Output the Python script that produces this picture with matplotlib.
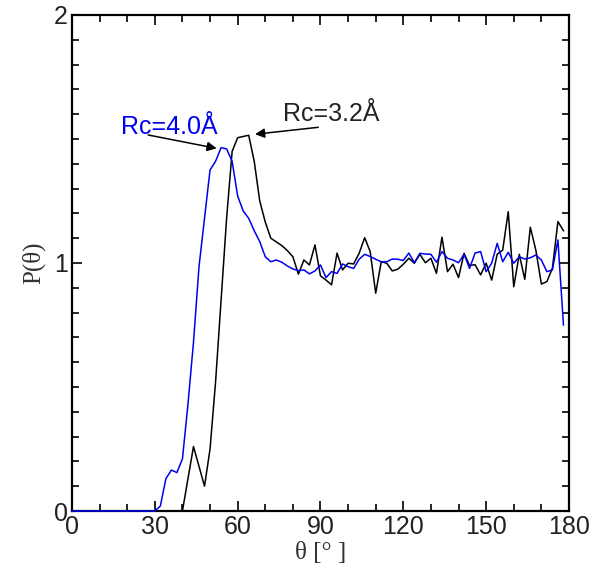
import numpy as np
import matplotlib
matplotlib.use('Agg')
import matplotlib.pyplot as plt
from matplotlib.ticker import MultipleLocator

# angle bins (degrees)
theta = list(range(0, 180, 2))

# Rc = 3.2 A (black)
p_32 = [0.0] * 20 + [
    0.0, 0.13, 0.26, 0.18, 0.10, 0.25, 0.52, 0.85, 1.18, 1.45,
    1.505, 1.51, 1.515, 1.41, 1.25, 1.165, 1.10, 1.085, 1.07, 1.05,
    1.025, 0.955, 1.012, 0.992, 1.073, 0.948, 0.931, 0.912, 1.04, 0.972,
    0.999, 0.996, 1.039, 1.102, 1.046, 0.878, 1.005, 0.999, 0.968, 0.975,
    0.995, 1.019, 0.999, 1.035, 1.001, 1.019, 0.958, 1.104, 0.965, 0.995,
    0.941, 1.039, 0.99, 0.993, 0.952, 0.999, 0.931, 1.035, 1.052, 1.207,
    0.904, 1.035, 0.934, 1.144, 1.052, 0.915, 0.925, 0.979, 1.167, 1.130]

# Rc = 4.0 A (blue)
p_40 = [0.0] * 16 + [
    0.02, 0.13, 0.165, 0.155, 0.21, 0.43, 0.68, 0.985, 1.18, 1.375,
    1.41, 1.465, 1.46, 1.41, 1.27, 1.21, 1.18, 1.13, 1.086, 1.025,
    1.005, 1.012, 1.003, 0.988, 0.976, 0.969, 0.972, 0.956, 0.968, 0.992,
    0.941, 0.965, 0.958, 0.996, 0.985, 0.978, 1.015, 1.035, 1.026, 1.015,
    1.005, 1.005, 1.016, 1.015, 1.01, 1.04, 1.001, 1.039, 1.036, 1.035,
    1.003, 1.046, 1.019, 1.012, 1.001, 1.035, 0.978, 1.04, 1.046, 0.965,
    0.999, 1.079, 1.005, 1.043, 0.999, 1.025, 1.016, 1.021, 1.032, 1.012,
    0.965, 0.972, 1.093, 0.75]

sans = ['Liberation Sans', 'DejaVu Sans']
serif = ['Liberation Serif', 'DejaVu Serif']

fig = plt.figure(figsize=(6.04, 5.75), dpi=100)
ax = fig.add_axes([0.1192, 0.1113, 0.8228, 0.8627])

ax.plot(theta, p_32, color='black', lw=1.1, clip_on=False, zorder=3)
ax.plot(theta, p_40, color='#0000ee', lw=1.1, clip_on=False, zorder=3)

ax.set_xlim(0, 180)
ax.set_ylim(0, 2)
ax.xaxis.set_major_locator(MultipleLocator(30))
ax.xaxis.set_minor_locator(MultipleLocator(10))
ax.yaxis.set_major_locator(MultipleLocator(1))
ax.yaxis.set_minor_locator(MultipleLocator(0.1))
ax.tick_params(which='both', direction='in', top=True, right=True,
               width=1.2, colors='black')
ax.tick_params(which='major', length=7, labelsize=18, pad=3,
               labelcolor='#222222')
ax.tick_params(which='minor', length=5)
for lab in ax.get_xticklabels() + ax.get_yticklabels():
    lab.set_family(sans)
for sp in ax.spines.values():
    sp.set_linewidth(1.6)

ax.set_xlabel('θ [° ]', family=serif, fontsize=18, color='#333333', labelpad=2)
ax.set_ylabel('P(θ)', family=serif, fontsize=18, color='#333333', labelpad=6)

arrow = dict(arrowstyle='-|>', color='black', lw=1.1,
             mutation_scale=14, shrinkA=0, shrinkB=0)
ax.text(17.6, 1.52, 'Rc=4.0Å', color='#0000ee', fontsize=18, family=sans,
        va='baseline')
ax.annotate('', xy=(52.4, 1.462), xytext=(27.6, 1.516), arrowprops=arrow)
ax.text(76.4, 1.573, 'Rc=3.2Å', color='#222222', fontsize=18, family=sans,
        va='baseline')
ax.annotate('', xy=(66.3, 1.519), xytext=(89.2, 1.547), arrowprops=arrow)

fig.savefig('out.png', dpi=100)
